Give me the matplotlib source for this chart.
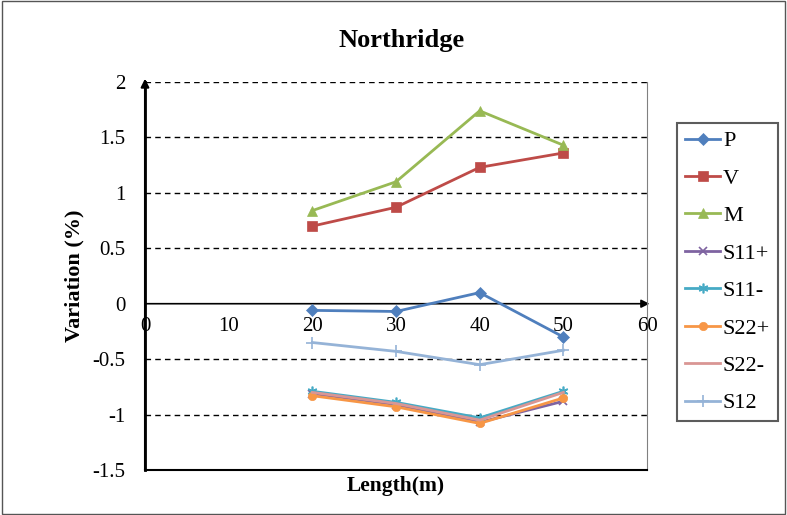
import matplotlib
matplotlib.use("Agg")
import matplotlib.pyplot as plt

plt.rcParams['font.family'] = ['Liberation Serif', 'DejaVu Serif']

lengths = [20, 30, 40, 50]
P = [-0.06, -0.07, 0.10, -0.30]
V = [0.70, 0.87, 1.23, 1.36]
M = [0.84, 1.10, 1.74, 1.43]
S11p = [-0.81, -0.91, -1.07, -0.88]
S11m = [-0.79, -0.89, -1.03, -0.79]
S22p = [-0.83, -0.93, -1.08, -0.85]
S22m = [-0.80, -0.90, -1.05, -0.80]
S12 = [-0.35, -0.43, -0.55, -0.42]
xticks = [0, 10, 20, 30, 40, 50, 60]
yticks = [-1.5, -1, -0.5, 0, 0.5, 1, 1.5, 2]

series = [
    ("P", P, "#4F7FBD", "D", 6),
    ("V", V, "#BE4B48", "s", 7),
    ("M", M, "#98B954", "^", 7),
    ("S11+", S11p, "#7E63A1", "x", 6),
    ("S11-", S11m, "#46AAC5", (6, 2, 0), 7),
    ("S22+", S22p, "#F79646", "o", 6),
    ("S22-", S22m, "#D99694", None, 0),
    ("S12", S12, "#95B3D7", "+", 8),
]

fig = plt.figure(figsize=(7.87, 5.15), dpi=100)
fig.patches.append(plt.Rectangle((0.002, 0.002), 0.996, 0.996, transform=fig.transFigure,
                                 fill=False, edgecolor="#555555", lw=1.0))
ax = fig.add_axes([145/787, 1-470/515, (647-145)/787, (470-82)/515])
ax.set_xlim(0, 60)
ax.set_ylim(-1.5, 2)

for y in [-1, -0.5, 0.5, 1, 1.5, 2]:
    ax.axhline(y, color="black", lw=1.0, ls=(0, (4, 3)), zorder=1)

for name, vals, c, m, ms in series:
    ax.plot(lengths, vals, color=c, lw=2, marker=m, markersize=ms,
            markeredgewidth=1.2 if m in ("x", "+", (6, 2, 0)) else 0.5,
            markeredgecolor=c, label=name, zorder=3)

ax.spines["top"].set_visible(False)
ax.spines["right"].set_color("#808080")
ax.spines["bottom"].set_color("black")
ax.spines["bottom"].set_linewidth(1.5)
ax.spines["left"].set_color("black")
ax.spines["left"].set_linewidth(2.0)

# x axis at y=0 with arrow
ax.annotate("", xy=(60.3, 0), xytext=(0, 0), arrowprops=dict(arrowstyle="-|>", color="black", lw=1.2,
            shrinkA=0, shrinkB=0, mutation_scale=12), annotation_clip=False, zorder=2)
ax.annotate("", xy=(0, 2.03), xytext=(0, -1.5), arrowprops=dict(arrowstyle="-|>", color="black", lw=1.5,
            shrinkA=0, shrinkB=0, mutation_scale=12), annotation_clip=False, zorder=2)

ax.set_xticks([])
for xt in xticks:
    ax.text(xt, -0.12, f"{xt}", ha="center", va="top", fontsize=15)
ax.set_yticks(yticks)
ax.set_yticklabels([f"{y:g}" for y in yticks], fontsize=15)
ax.tick_params(axis="y", length=0, pad=14)

ax.set_xlabel("Length(m)", fontsize=15.5, fontweight="bold", labelpad=4)
ax.set_ylabel("Variation (%)", fontsize=16, fontweight="bold", labelpad=6)
fig.text(402/787, 1-40/515, "Northridge", ha="center", va="center", fontsize=19, fontweight="bold")

leg = fig.legend(loc="upper left", bbox_to_anchor=(677/787, 1-123/515), fontsize=16,
                 frameon=True, fancybox=False, edgecolor="#333333", borderpad=0.35,
                 borderaxespad=0, labelspacing=0.76, handlelength=1.6, handletextpad=0.12)
leg.get_frame().set_linewidth(1.5)

fig.savefig("out.png", dpi=100)
